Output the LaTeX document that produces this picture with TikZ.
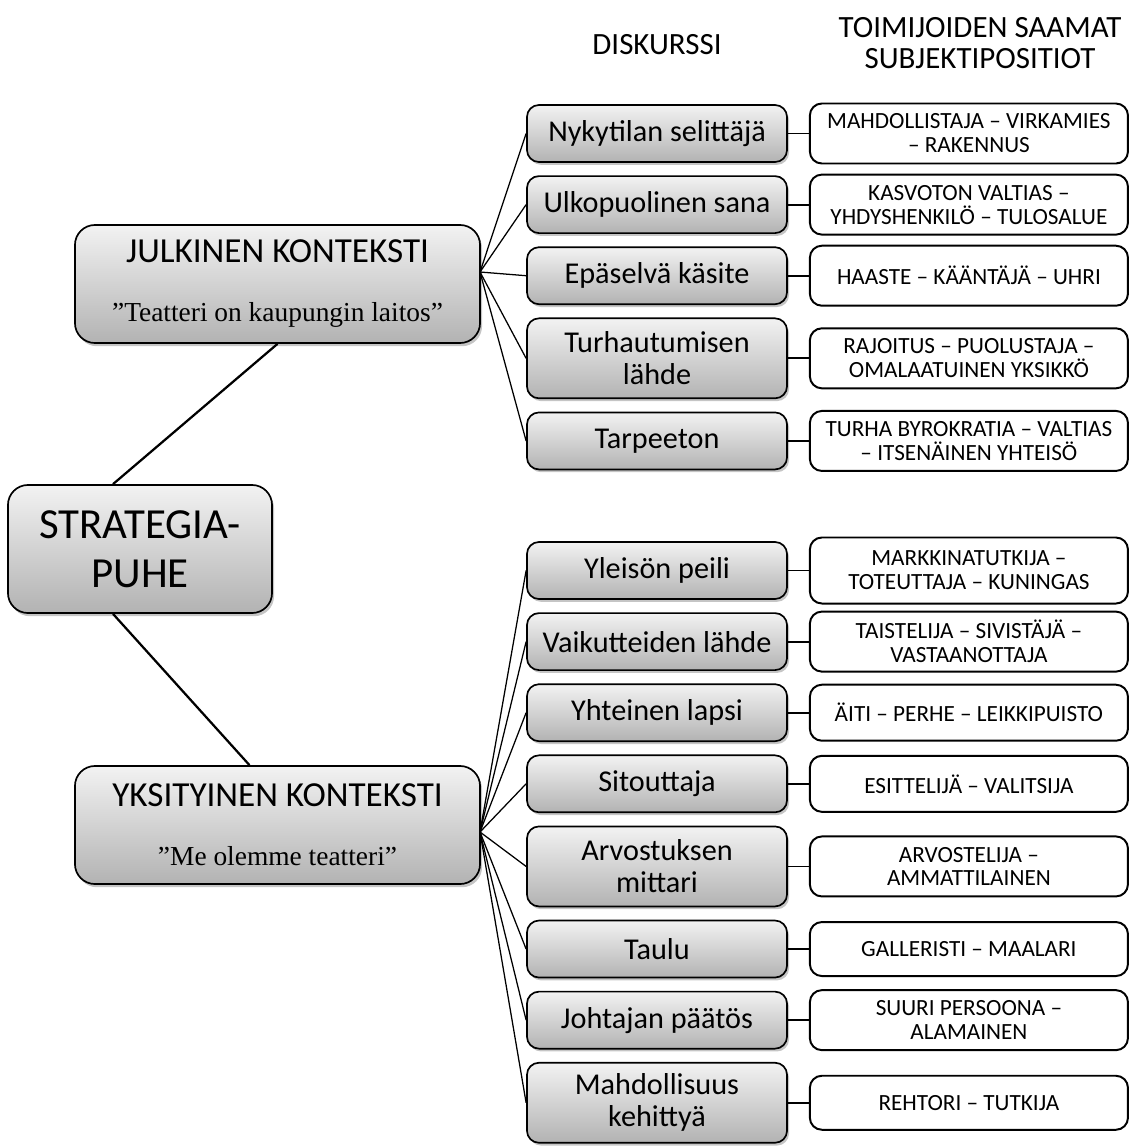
\documentclass[tikz,border=0pt]{standalone}
\usepackage{fontspec}
\setmainfont{Carlito}
\newfontfamily\quotefont{Liberation Serif}
\usepackage{tikz}
\usetikzlibrary{positioning, shadows}
\tikzstyle{mainbox} = [rectangle, rounded corners=0.5cm, draw=black, line width=1.2pt, top color=black!5, bottom color=black!30, drop shadow={shadow xshift=0.05cm, shadow yshift=-0.08cm, fill=black!45}, align=center, inner sep=2pt]
\tikzstyle{discbox} = [rectangle, rounded corners=0.3cm, draw=black, line width=1.2pt, top color=black!5, bottom color=black!30, drop shadow={shadow xshift=0.05cm, shadow yshift=-0.07cm, fill=black!45}, minimum width=6.5cm, minimum height=1.425cm, align=center, inner sep=2pt, font=\fontsize{21.5}{23}\selectfont]
\tikzstyle{posbox} = [rectangle, rounded corners=0.3cm, draw=black, line width=1.4pt, fill=white, minimum width=7.95cm, minimum height=1.5cm, align=center, inner sep=2pt, font=\fontsize{16.5}{17}\selectfont]
\tikzstyle{header} = [align=center, font=\fontsize{22}{22.5}\selectfont]
\tikzstyle{fan} = [line width=0.9pt]
\tikzstyle{link} = [line width=1.3pt]
\tikzstyle{trunk} = [line width=1.6pt]

\begin{document}
\begin{tikzpicture}[x=0.025cm, y=-0.025cm, node distance=0.31cm]
    \useasboundingbox (0,0) rectangle (1129,1146);

    % column headers
    \node (hdisc) [header] at (657,45) {DISKURSSI};
    \node (hpos) [header] at (980,43) {TOIMIJOIDEN SAAMAT\\SUBJEKTIPOSITIOT};

    % root and contexts
    \node (strat) [mainbox, minimum width=6.6cm, minimum height=3.2cm, font=\fontsize{30.5}{35}\selectfont] at (140,549) {STRATEGIA-\\PUHE};
    \node (jul) [mainbox, minimum width=10.125cm, minimum height=2.95cm, font=\fontsize{25}{28}\selectfont] at (277.5,284)
        {JULKINEN KONTEKSTI\\[14pt]{\quotefont\fontsize{19.5}{22}\selectfont ”Teatteri on kaupungin laitos”}};
    \node (yks) [mainbox, minimum width=10.125cm, minimum height=2.95cm, font=\fontsize{25}{28}\selectfont] at (277.5,825)
        {YKSITYINEN KONTEKSTI\\[14pt]{\quotefont\fontsize{19.5}{22}\selectfont ”Me olemme teatteri”}};
    \coordinate (julfan) at (480,272);
    \coordinate (yksfan) at (480,832);

    % discourses, public context
    \node (m1) [discbox] at (657,133.5) {Nykytilan selittäjä};
    \node (m2) [discbox, below=of m1] {Ulkopuolinen sana};
    \node (m3) [discbox, below=of m2] {Epäselvä käsite};
    \node (m4) [discbox, below=of m3, minimum height=2cm] {Turhautumisen\\lähde};
    \node (m5) [discbox, below=of m4] {Tarpeeton};

    % discourses, private context
    \node (m6) [discbox] at (657,570.5) {Yleisön peili};
    \node (m7) [discbox, below=of m6] {Vaikutteiden lähde};
    \node (m8) [discbox, below=of m7] {Yhteinen lapsi};
    \node (m9) [discbox, below=of m8] {Sitouttaja};
    \node (m10) [discbox, below=of m9, minimum height=2cm] {Arvostuksen\\mittari};
    \node (m11) [discbox, below=of m10] {Taulu};
    \node (m12) [discbox, below=of m11] {Johtajan päätös};
    \node (m13) [discbox, below=of m12, minimum height=2cm] {Mahdollisuus\\kehittyä};

    % subject positions
    \node (r1) [posbox, right=0.525cm of m1] {MAHDOLLISTAJA – VIRKAMIES\\– RAKENNUS};
    \node (r2) [posbox, right=0.525cm of m2] {KASVOTON VALTIAS –\\YHDYSHENKILÖ – TULOSALUE};
    \node (r3) [posbox, right=0.525cm of m3] {HAASTE – KÄÄNTÄJÄ – UHRI};
    \node (r4) [posbox, right=0.525cm of m4] {RAJOITUS – PUOLUSTAJA –\\OMALAATUINEN YKSIKKÖ};
    \node (r5) [posbox, right=0.525cm of m5] {TURHA BYROKRATIA – VALTIAS\\– ITSENÄINEN YHTEISÖ};
    \node (r6) [posbox, right=0.525cm of m6, minimum height=1.65cm] {MARKKINATUTKIJA –\\TOTEUTTAJA – KUNINGAS};
    \node (r7) [posbox, right=0.525cm of m7] {TAISTELIJA – SIVISTÄJÄ –\\VASTAANOTTAJA};
    \node (r8) [posbox, right=0.525cm of m8, minimum height=1.4cm] {ÄITI – PERHE – LEIKKIPUISTO};
    \node (r9) [posbox, right=0.525cm of m9, minimum height=1.4cm] {ESITTELIJÄ – VALITSIJA};
    \node (r10) [posbox, right=0.525cm of m10] {ARVOSTELIJA –\\AMMATTILAINEN};
    \node (r11) [posbox, right=0.525cm of m11, minimum height=1.35cm] {GALLERISTI – MAALARI};
    \node (r12) [posbox, right=0.525cm of m12] {SUURI PERSOONA –\\ALAMAINEN};
    \node (r13) [posbox, right=0.525cm of m13, minimum height=1.35cm] {REHTORI – TUTKIJA};

    \draw [trunk] ([xshift=-0.675cm]strat.north) -- (jul.south);
    \draw [trunk] ([xshift=-0.675cm]strat.south) -- ([xshift=-0.7cm]yks.north);

    \draw [fan] (julfan) -- (m1.west);
    \draw [fan] (julfan) -- (m2.west);
    \draw [fan] (julfan) -- (m3.west);
    \draw [fan] (julfan) -- (m4.west);
    \draw [fan] (julfan) -- (m5.west);
    \draw [fan] (yksfan) -- (m6.west);
    \draw [fan] (yksfan) -- (m7.west);
    \draw [fan] (yksfan) -- (m8.west);
    \draw [fan] (yksfan) -- (m9.west);
    \draw [fan] (yksfan) -- (m10.west);
    \draw [fan] (yksfan) -- (m11.west);
    \draw [fan] (yksfan) -- (m12.west);
    \draw [fan] (yksfan) -- (m13.west);

    \draw [link] (m1) -- (r1);
    \draw [link] (m2) -- (r2);
    \draw [link] (m3) -- (r3);
    \draw [link] (m4) -- (r4);
    \draw [link] (m5) -- (r5);
    \draw [link] (m6) -- (r6);
    \draw [link] (m7) -- (r7);
    \draw [link] (m8) -- (r8);
    \draw [link] (m9) -- (r9);
    \draw [link] (m10) -- (r10);
    \draw [link] (m11) -- (r11);
    \draw [link] (m12) -- (r12);
    \draw [link] (m13) -- (r13);
\end{tikzpicture}
\end{document}
